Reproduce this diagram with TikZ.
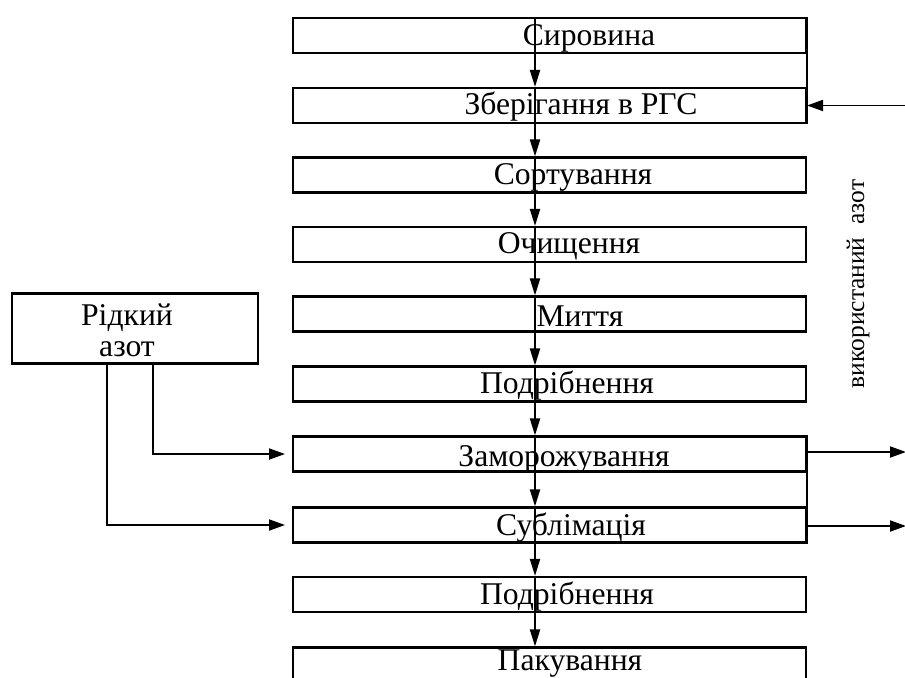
\documentclass[tikz,border=0pt]{standalone}
\usepackage{fontspec}
\setmainfont{Liberation Serif}
\usetikzlibrary{arrows.meta,calc}
\begin{document}
\begin{tikzpicture}[x=0.02cm,y=-0.02cm,
  box/.style={draw, line width=1.2pt, minimum width=10.26cm, minimum height=0.7cm, inner sep=0pt},
  lbl/.style={font=\fontsize{18}{15}\selectfont, inner sep=0pt},
  arr/.style={line width=1.1pt, -{Triangle[length=0.34cm,width=0.2cm]}},
  harr/.style={line width=1.1pt, -{Triangle[length=0.32cm,width=0.22cm]}},
  conn/.style={line width=1.1pt}]
\useasboundingbox (0,0) rectangle (905,677);
% main boxes
\node[box] (b1) at (549.5,35.5) {};
\node[box] (b2) at (549.5,105.5) {};
\node[box] (b3) at (549.5,175) {};
\node[box] (b4) at (549.5,244.5) {};
\node[box] (b5) at (549.5,314) {};
\node[box] (b6) at (549.5,384) {};
\node[box] (b7) at (549.5,454) {};
\node[box] (b8) at (549.5,525) {};
\node[box] (b9) at (549.5,594.5) {};
\node[box] (b10) at (549.5,665) {};
% labels
\node[lbl] (t1) at (589,38) {Сировина};
\node[lbl] (t2) at (581,107) {Зберігання в РГС};
\node[lbl] (t3) at (573,177) {Сортування};
\node[lbl] (t4) at (569,246) {Очищення};
\node[lbl] (t5) at (580,316) {Миття};
\node[lbl] (t6) at (567,386) {Подрібнення};
\node[lbl] (t7) at (564,459) {Заморожування};
\node[lbl] (t8) at (571,528) {Сублімація};
\node[lbl] (t9) at (567,597) {Подрібнення};
\node[lbl] (t10) at (570,664) {Пакування};
% left box
\node[draw, line width=1.2pt, minimum width=4.92cm, minimum height=1.4cm, inner sep=0pt] (lb) at (135,328.5) {};
\node[lbl, align=center, font=\fontsize{18}{17.5}\selectfont] (lt) at (127,330) {Рідкий\\азот};
% rotated label
\node[lbl, font=\fontsize{14.5}{16}\selectfont, rotate=90] (rl) at (858,284) {використаний\ \ азот};
% vertical arrows
\coordinate (ax) at (535,0);
\foreach \i/\j in {1/2,2/3,3/4,4/5,5/6,6/7,7/8,8/9,9/10}{
  \draw[arr] (b\i.north -| ax) -- (b\j.north -| ax);
}
% right edge joins
\draw[conn] (b1.north east) -- (b2.south east);
\draw[conn] (b7.north east) -- (b8.south east);
% left feeds
\draw[harr, shorten >=0.14cm] ($(lb.south)+(18,0)$) |- (b7.west);
\draw[harr, shorten >=0.14cm] ($(lb.south)+(-28,0)$) |- (b8.west);
% right arrows
\coordinate (rin) at (905,105.5);
\coordinate (o7) at (906,452);
\coordinate (o8) at (906,526);
\draw[harr] (rin) -- (b2.east);
\draw[harr] ($(b7.east)+(0,-2)$) -- (o7);
\draw[harr] ($(b8.east)+(0,1)$) -- (o8);
\end{tikzpicture}
\end{document}
